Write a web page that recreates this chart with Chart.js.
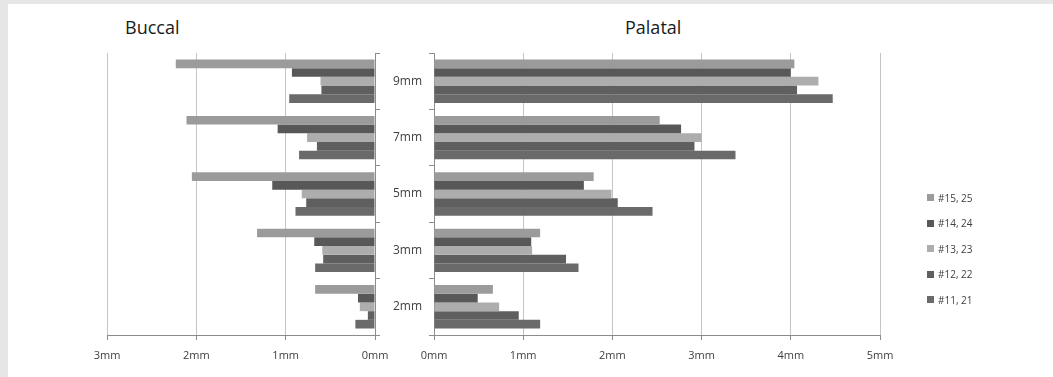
<!DOCTYPE html>
<html lang="en">
<head>
<meta charset="UTF-8">
<title>Buccal / Palatal</title>
<script src="https://cdn.jsdelivr.net/npm/chart.js"></script>
<style>
    body { margin: 0; background: #fff; font-family: "Open Sans", sans-serif; }
    #wrap { position: relative; width: 1053px; height: 377px; overflow: hidden; background: #fff; }
    .frameL { position: absolute; left: 0; top: 0; width: 8px; height: 377px; background: #e6e6e6; }
    .frameT { position: absolute; left: 0; top: 0; width: 1053px; height: 4px; background: #e6e6e6; }
    .title { position: absolute; top: 15px; font-size: 18px; line-height: 24px; color: #1a1a1a; }
    #buccalChart { position: absolute; left: 0; top: 0; }
    #palatalChart { position: absolute; left: 410px; top: 0; }
    #legend { position: absolute; left: 927px; top: 185px; font-size: 10px; color: #404040; }
    #legend div { height: 25.5px; display: flex; align-items: center; }
    #legend span.box { display: inline-block; width: 7px; height: 7px; margin-right: 4px; }
</style>
</head>
<body>
<div id="wrap">
    <div class="frameL"></div>
    <div class="frameT"></div>
    <div class="title" style="left:125px">Buccal</div>
    <div class="title" style="left:625px">Palatal</div>
    <canvas id="buccalChart" width="430" height="377"></canvas>
    <canvas id="palatalChart" width="643" height="377"></canvas>
    <div id="legend"></div>
</div>

<script>
    const categories = ['9mm', '7mm', '5mm', '3mm', '2mm'];
    const seriesNames = ['#15, 25', '#14, 24', '#13, 23', '#12, 22', '#11, 21'];
    const seriesColors = ['#9b9b9b', '#585858', '#adadad', '#5f5f5f', '#6a6a6a'];

    // buccal values (mm), one array per tooth pair
    const buccal15 = [2.23, 2.11, 2.05, 1.32, 0.67];
    const buccal14 = [0.93, 1.09, 1.15, 0.68, 0.19];
    const buccal13 = [0.61, 0.76, 0.82, 0.59, 0.17];
    const buccal12 = [0.60, 0.65, 0.77, 0.58, 0.08];
    const buccal11 = [0.96, 0.85, 0.89, 0.67, 0.22];

    // palatal values (mm)
    const palatal15 = [4.04, 2.53, 1.79, 1.19, 0.66];
    const palatal14 = [4.00, 2.77, 1.68, 1.09, 0.49];
    const palatal13 = [4.31, 3.00, 1.99, 1.10, 0.73];
    const palatal12 = [4.07, 2.92, 2.06, 1.48, 0.95];
    const palatal11 = [4.47, 3.38, 2.45, 1.62, 1.19];

    const buccalTicks = [0, 1, 2, 3];
    const palatalTicks = [0, 1, 2, 3, 4, 5];

    const tickColor = '#404040';
    const gridColor = '#c4c4c4';
    const axisColor = '#8c8c8c';

    function makeDatasets(series) {
        return series.map((values, i) => ({
            label: seriesNames[i],
            data: values,
            backgroundColor: seriesColors[i],
            borderWidth: 0,
            barPercentage: 1,
            categoryPercentage: 0.77
        }));
    }

    function xScale(ticks, reverse) {
        return {
            min: ticks[0],
            max: ticks[ticks.length - 1],
            reverse: reverse,
            afterBuildTicks: scale => { scale.ticks = ticks.map(v => ({ value: v })); },
            ticks: {
                callback: v => v + 'mm',
                color: tickColor,
                font: { family: 'Open Sans', size: 11 },
                padding: 9,
                maxRotation: 0
            },
            grid: { color: gridColor, tickLength: 5, tickColor: axisColor },
            border: { color: axisColor },
            afterFit: scale => {
                scale.height = 42;
                // labels may overhang the plot; the page padding already leaves room for them
                scale.paddingLeft = 0;
                scale.paddingRight = 0;
            }
        };
    }

    Chart.defaults.font.family = 'Open Sans';

    new Chart(document.getElementById('buccalChart').getContext('2d'), {
        type: 'bar',
        data: {
            labels: categories,
            datasets: makeDatasets([buccal15, buccal14, buccal13, buccal12, buccal11])
        },
        options: {
            indexAxis: 'y',
            responsive: false,
            animation: false,
            devicePixelRatio: 1,
            layout: { autoPadding: false, padding: { left: 107, top: 53, right: 0, bottom: 0 } },
            plugins: { legend: { display: false }, tooltip: { enabled: false } },
            scales: {
                x: xScale(buccalTicks, true),
                y: {
                    position: 'right',
                    grid: { drawOnChartArea: false, tickLength: 5, color: axisColor },
                    border: { color: axisColor },
                    ticks: { color: tickColor, font: { family: 'Open Sans', size: 12 }, padding: 13 },
                    afterFit: scale => { scale.width = 55; }
                }
            }
        }
    });

    new Chart(document.getElementById('palatalChart').getContext('2d'), {
        type: 'bar',
        data: {
            labels: categories,
            datasets: makeDatasets([palatal15, palatal14, palatal13, palatal12, palatal11])
        },
        options: {
            indexAxis: 'y',
            responsive: false,
            animation: false,
            devicePixelRatio: 1,
            layout: { autoPadding: false, padding: { left: 19, top: 53, right: 173, bottom: 0 } },
            plugins: { legend: { display: false }, tooltip: { enabled: false } },
            scales: {
                x: xScale(palatalTicks, false),
                y: {
                    position: 'left',
                    grid: { drawOnChartArea: false, tickLength: 5, color: axisColor },
                    border: { color: axisColor },
                    ticks: { display: false },
                    afterFit: scale => { scale.width = 5; }
                }
            }
        }
    });

    const legend = document.getElementById('legend');
    seriesNames.forEach((name, i) => {
        const row = document.createElement('div');
        const box = document.createElement('span');
        box.className = 'box';
        box.style.background = seriesColors[i];
        row.appendChild(box);
        row.appendChild(document.createTextNode(name));
        legend.appendChild(row);
    });
</script>
</body>
</html>
